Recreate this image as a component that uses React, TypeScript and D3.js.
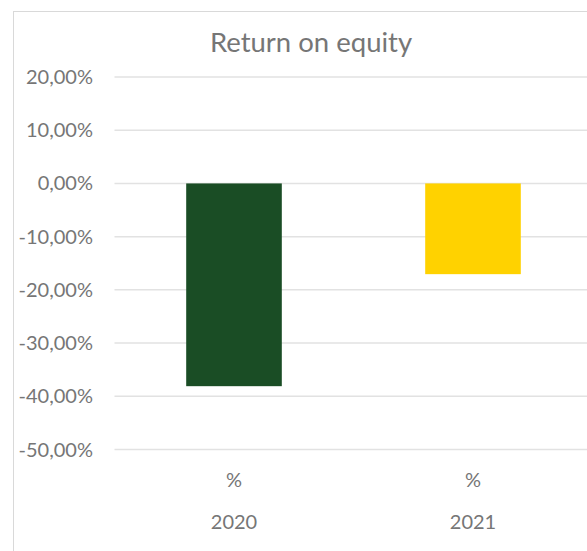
import React from "react";
import * as d3 from "d3";

const categories = ["2020", "2021"];
const subLabels = ["%", "%"];
const values = [-0.381, -0.1705];
const barColors = ["#1a4d25", "#ffd200"];
const yTicks = [0.2, 0.1, 0, -0.1, -0.2, -0.3, -0.4, -0.5];
const title = "Return on equity";

const W = 587;
const H = 551;
const font = "Lato, 'Open Sans', sans-serif";
const textColor = "#767676";

export default function App() {
  const y = d3.scaleLinear().domain([-0.5, 0.2]).range([449.5, 77]);
  const x = d3.scaleBand().domain(categories).range([114.5, 592.5]).paddingInner(0.6).paddingOuter(0.3);
  const fmt = (v: number) => (v * 100).toFixed(2).replace(".", ",") + "%";
  return (
    <svg width={W} height={H} style={{ position: "absolute", left: 0, top: 0, background: "#fff" }}>
      <rect x={13.5} y={11.5} width={W + 20} height={H + 20} fill="#fff" stroke="#d9d9d9" strokeWidth={1} />
      <text x={311} y={52} textAnchor="middle" fontFamily={font} fontSize={27.5} fill={textColor}>{title}</text>
      {yTicks.map((t) => (
        <g key={t}>
          <line x1={114.5} x2={W} y1={y(t)} y2={y(t)} stroke="#e2e2e2" strokeWidth={1.5} />
          <text x={93} y={y(t)} dy="0.35em" textAnchor="end" fontFamily={font} fontSize={20} fill={textColor}>{fmt(t)}</text>
        </g>
      ))}
      {categories.map((c, i) => {
        const v = values[i];
        const y0 = y(0);
        const y1 = y(v);
        const bx = x(c)!;
        const cx = bx + x.bandwidth() / 2;
        return (
          <g key={c}>
            <rect x={bx} y={Math.min(y0, y1)} width={x.bandwidth()} height={Math.abs(y1 - y0)} fill={barColors[i]} />
            <text x={cx} y={487} textAnchor="middle" fontFamily={font} fontSize={20} fill={textColor}>{subLabels[i]}</text>
            <text x={cx} y={529} textAnchor="middle" fontFamily={font} fontSize={20} fill={textColor}>{c}</text>
          </g>
        );
      })}
    </svg>
  );
}
